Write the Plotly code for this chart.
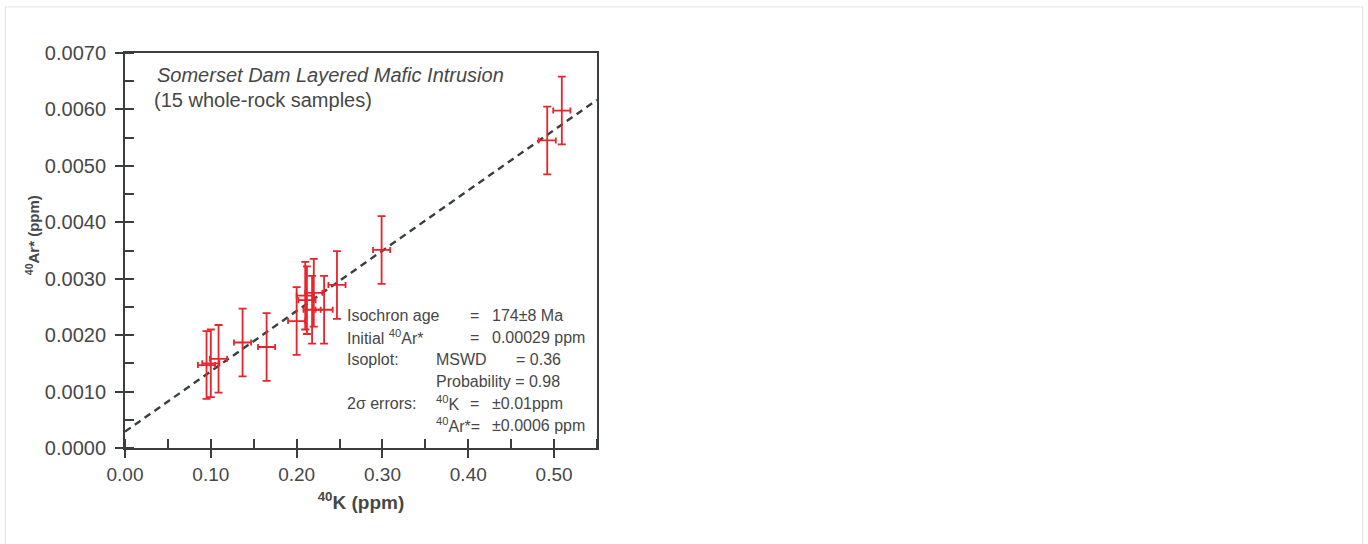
import plotly.graph_objects as go

# ---- data ----
k40 = [0.095, 0.100, 0.109, 0.137, 0.165, 0.200, 0.210, 0.212, 0.220, 0.218, 0.232, 0.247, 0.299, 0.492, 0.509]
ar40 = [0.00147, 0.00150, 0.00158, 0.00187, 0.00179, 0.00225, 0.00270, 0.00262, 0.00275,
        0.00245, 0.00245, 0.00289, 0.00351, 0.00545, 0.00598]
k40_err = 0.01
ar40_err = 0.0006
fit_intercept = 0.00029
fit_slope = 0.01069
fit_x = [0.0, 0.55]
fit_y = [fit_intercept + fit_slope * v for v in fit_x]

x_ticks = [0.0, 0.1, 0.2, 0.3, 0.4, 0.5]
y_ticks = [0.0, 0.001, 0.002, 0.003, 0.004, 0.005, 0.006, 0.007]

FONT = "Liberation Sans, Arial, sans-serif"
TXT = "#474747"
AX = "#3a3f3d"
RED = "#e8232b"

fig = go.Figure()
fig.add_trace(go.Scatter(
    x=fit_x, y=fit_y, mode="lines",
    line=dict(color="#36403c", width=2.4, dash="7px,5px"),
    hoverinfo="skip", showlegend=False))
fig.add_trace(go.Scatter(
    x=k40, y=ar40, mode="markers",
    marker=dict(size=1, color=RED),
    error_x=dict(type="constant", value=k40_err, color=RED, thickness=1.8, width=3),
    error_y=dict(type="constant", value=ar40_err, color=RED, thickness=1.8, width=4),
    showlegend=False))
# invisible trace on overlay axes to carry inside ticks
fig.add_trace(go.Scatter(x=[None], y=[None], xaxis="x2", yaxis="y2", showlegend=False))

fig.update_layout(
    width=1368, height=544,
    margin=dict(l=125, r=771, t=53, b=96, autoexpand=False),
    paper_bgcolor="white", plot_bgcolor="white",
    font=dict(family=FONT, color=TXT),
    xaxis=dict(range=[0, 0.55], tickvals=x_ticks, tickformat=".2f",
               ticks="outside", ticklen=8, tickwidth=1.5, tickcolor=AX,
               showline=True, linecolor=AX, linewidth=2, mirror=True,
               showgrid=False, zeroline=False,
               tickfont=dict(size=19, color=TXT, family=FONT),
               minor=dict(dtick=0.05, tick0=0, ticks="inside", ticklen=9, tickwidth=1.5, tickcolor=AX),
               title=dict(text="<b><sup>40</sup>K (ppm)</b>", font=dict(size=19, color=TXT, family=FONT), standoff=12)),
    yaxis=dict(range=[0, 0.007], tickvals=y_ticks, tickformat=".4f",
               ticks="outside", ticklen=8, tickwidth=1.5, tickcolor=AX,
               showline=True, linecolor=AX, linewidth=2, mirror=True,
               showgrid=False, zeroline=False, ticklabelstandoff=5,
               tickfont=dict(size=20, color=TXT, family=FONT),
               minor=dict(dtick=0.0005, tick0=0, ticks="inside", ticklen=9, tickwidth=1.5, tickcolor=AX)),
    xaxis2=dict(overlaying="x", matches="x", range=[0, 0.55], tickvals=x_ticks, ticks="inside",
                ticklen=8, tickwidth=1.5, tickcolor=AX, showticklabels=False,
                showline=False, showgrid=False, zeroline=False, side="bottom"),
    yaxis2=dict(overlaying="y", matches="y", range=[0, 0.007], tickvals=y_ticks, ticks="inside",
                ticklen=8, tickwidth=1.5, tickcolor=AX, showticklabels=False,
                showline=False, showgrid=False, zeroline=False, side="left"),
    shapes=[dict(type="rect", xref="paper", yref="paper",
                 x0=(5.5 - 125) / 472, x1=(1362.5 - 125) / 472,
                 y0=(448 - 560) / 395.3, y1=(448 - 6.5) / 395.3,
                 line=dict(color="#e2e2e2", width=1), fillcolor="rgba(0,0,0,0)", layer="below")],
)

def px_x(p):
    return (p - 125) / 472.0

def px_y(p):
    return (448 - p) / 395.3

annots = [
    (155, 75, "<i>Somerset Dam Layered Mafic Intrusion</i>", 20),
    (152, 100, "(15 whole-rock samples)", 20),
    (345, 315, "Isochron age", 16),
    (468, 315, "=", 16),
    (490, 315, "174±8 Ma", 16),
    (345, 337, "Initial <sup>40</sup>Ar*", 16),
    (468, 337, "=", 16),
    (490, 337, "0.00029 ppm", 16),
    (345, 359, "Isoplot:", 16),
    (434, 359, "MSWD", 16),
    (514, 359, "= 0.36", 16),
    (434, 381, "Probability = 0.98", 16),
    (345, 403, "2σ errors:", 16),
    (434, 403, "<sup>40</sup>K", 16),
    (468, 403, "=", 16),
    (490, 403, "±0.01ppm", 16),
    (434, 425, "<sup>40</sup>Ar*=", 16),
    (490, 425, "±0.0006 ppm", 16),
]
for px, py, text, size in annots:
    fig.add_annotation(x=px_x(px), y=px_y(py), xref="paper", yref="paper", text=text,
                       showarrow=False, xanchor="left", yanchor="middle",
                       font=dict(size=size, color=TXT, family=FONT))

# y-axis title placed to match the reference
fig.add_annotation(x=px_x(32), y=px_y(235), xref="paper", yref="paper",
                   text="<b><sup>40</sup>Ar* (ppm)</b>", textangle=-90, showarrow=False,
                   xanchor="center", yanchor="middle",
                   font=dict(size=15, color=TXT, family=FONT))

fig.write_html("out.html", config={"displayModeBar": False},
               post_script="document.body.style.margin='0px';")
